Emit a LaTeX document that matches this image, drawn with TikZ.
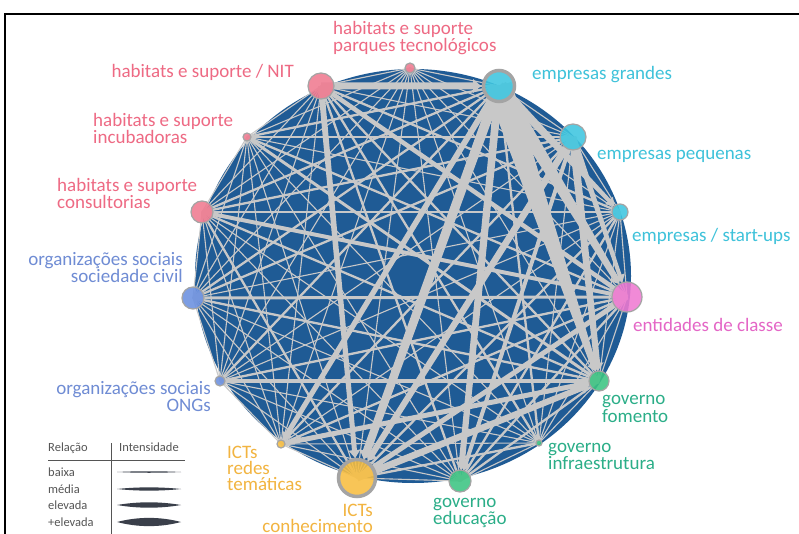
\documentclass[tikz,border=0pt]{standalone}
\usepackage{fontspec}
\setmainfont{Carlito}
\usetikzlibrary{calc}
\pgfdeclarelayer{discl}
\pgfdeclarelayer{edgel}
\pgfsetlayers{discl,edgel,main}

\definecolor{disc}{HTML}{1F5B95}
\definecolor{edgecol}{HTML}{C8C8C8}
\definecolor{ringgray}{HTML}{A4A4A4}
\definecolor{nHab}{HTML}{F07A90}
\definecolor{tHab}{HTML}{EE6A84}
\definecolor{nEmp}{HTML}{3EC6E0}
\definecolor{tEmp}{HTML}{3EC2DA}
\definecolor{nOrg}{HTML}{6A90E0}
\definecolor{tOrg}{HTML}{6F8CD4}
\definecolor{nEnt}{HTML}{F07AD2}
\definecolor{tEnt}{HTML}{E466C6}
\definecolor{nGov}{HTML}{3CC482}
\definecolor{tGov}{HTML}{2BAE88}
\definecolor{nIct}{HTML}{F8BE40}
\definecolor{tIct}{HTML}{F2B440}
\definecolor{legtext}{HTML}{555555}
\definecolor{lens}{HTML}{3A3F4A}

\tikzset{
  actor/.style={circle, inner sep=0pt, draw=ringgray, line width=1.2pt, fill opacity=0.88, draw opacity=1},
  bigactor/.style={actor, line width=3.5pt},
  thinedge/.style={draw=edgecol, line width=1.1pt},
  lbl/.style={inner sep=0pt, font=\fontsize{19}{16}\selectfont},
  lblL/.style={lbl, anchor=base west, align=left},
  lblR/.style={lbl, anchor=base east, align=right},
  legtxt/.style={inner sep=0pt, anchor=base west, text=legtext, font=\fontsize{12.5}{14}\selectfont},
}

% band of varying width ending in an arrow tip at the target's rim
\newcommand\bandto[5]{%
  \coordinate (bE) at ($(#2.center)!#5pt+8pt!(#1.center)$);
  \coordinate (bT) at ($(#2.center)!#5pt!(#1.center)$);
  \fill[edgecol] ($(#1.center)!#3pt!90:(bE)$) -- ($(bE)!#4pt!-90:(#1.center)$)
    -- ($(bE)!#4pt+3.5pt!-90:(#1.center)$) -- (bT)
    -- ($(bE)!#4pt+3.5pt!90:(#1.center)$) -- ($(bE)!#4pt!90:(#1.center)$)
    -- ($(#1.center)!#3pt!-90:(bE)$) -- cycle;
}
% plain band between two actors
\newcommand\band[3]{%
  \draw[draw=edgecol, line width=#3pt] (#1.center) -- (#2.center);
}

\begin{document}
\begin{tikzpicture}[x=1pt,y=-1pt]
\useasboundingbox (0,0) rectangle (799,534);

\begin{pgfonlayer}{discl}
  \fill[white] (0,0) rectangle (799,534);
  \draw[line width=2pt] (5,534) -- (5,14) -- (799,14);
  \fill[disc] (413,276) ellipse [x radius=218pt, y radius=207pt];
\end{pgfonlayer}

% actors
\node[actor, fill=nHab, minimum size=10pt] (park) at (410,68) {};
\node[actor, fill=nHab, minimum size=26pt] (nit) at (321,86) {};
\node[bigactor, fill=nEmp, minimum size=31pt] (gra) at (499,86) {};
\node[actor, fill=nHab, minimum size=8pt] (inc) at (247,137) {};
\node[actor, fill=nEmp, minimum size=26pt] (peq) at (573,137) {};
\node[actor, fill=nHab, minimum size=22pt] (con) at (202,212) {};
\node[actor, fill=nEmp, minimum size=16pt] (sta) at (620,212) {};
\node[actor, fill=nOrg, minimum size=22pt] (soc) at (193,298) {};
\node[actor, fill=nEnt, minimum size=30pt] (ent) at (627,297) {};
\node[actor, fill=nOrg, minimum size=10pt] (ong) at (220,381) {};
\node[actor, fill=nGov, minimum size=20pt] (fom) at (599,381) {};
\node[actor, fill=nIct, minimum size=8pt] (red) at (281,444) {};
\node[actor, fill=nGov, minimum size=6pt] (inf) at (539,443) {};
\node[bigactor, fill=nIct, minimum size=37pt] (ict) at (357,478) {};
\node[actor, fill=nGov, minimum size=22pt] (edu) at (460,481) {};

% connectors
\begin{pgfonlayer}{edgel}
  \def\actorlist{park,nit,gra,inc,peq,con,sta,soc,ent,ong,fom,red,inf,ict,edu}
  \foreach \a [count=\i] in \actorlist {
    \foreach \b [count=\j] in \actorlist {
      \ifnum\j>\i \draw[thinedge] (\a.center) -- (\b.center); \fi
    }
  }
  % strongest relations, tapering towards the receiving actor
  \bandto{gra}{fom}{13}{3}{10}
  \bandto{gra}{ent}{8}{3}{15}
  \bandto{gra}{sta}{5}{2}{8}
  \bandto{gra}{ict}{5}{4}{20}
  \bandto{gra}{edu}{4}{3}{11}
  \bandto{gra}{red}{3}{2.5}{4}
  \bandto{nit}{gra}{3.5}{3.5}{18}
  \bandto{peq}{fom}{4}{3}{10}
  \bandto{peq}{ict}{3.5}{3}{20}
  \bandto{peq}{ent}{3}{2}{15}
  \bandto{ict}{fom}{3.5}{3}{10}
  \bandto{nit}{ict}{3}{2.5}{20}
  \bandto{peq}{edu}{2}{2}{11}
  % high relations
  \band{red}{fom}{5}
  \band{ong}{fom}{4}
  \band{nit}{ent}{4.5}
  \band{ict}{ent}{5}
  \band{con}{ent}{4}
  \band{soc}{ent}{3}
  \band{inc}{fom}{3}
  % medium relations
  \foreach \p/\q in {nit/fom, nit/edu, nit/inf, nit/sta, con/fom, con/ict, con/gra,
      soc/fom, soc/gra, ict/sta, ict/inf, ent/edu, ent/red, edu/fom, edu/sta,
      ong/gra, inc/gra, inc/ent, soc/peq, ong/ent, red/peq, con/peq, inf/gra}
    {\band{\p}{\q}{2.3}}
\end{pgfonlayer}

% labels (base anchor = baseline of the last line)
\node[lblL, text=tHab] (lpark) at (333,51.5) {habitats e suporte\\parques tecnológicos};
\node[lblR, text=tHab] (lnit) at (294,77.5) {habitats e suporte / NIT};
\node[lblL, text=tHab] (linc) at (93,144) {habitats e suporte\\incubadoras};
\node[lblL, text=tHab] (lcon) at (57,208.5) {habitats e suporte\\consultorias};
\node[lblR, text=tOrg] (lsoc) at (183,282.5) {organizações sociais\\sociedade civil};
\node[lblR, text=tOrg, font=\fontsize{19}{17}\selectfont] (long) at (211,411) {organizações sociais\\ONGs};
\node[lblL, text=tEmp] (lgra) at (532,79.5) {empresas grandes};
\node[lblL, text=tEmp] (lpeq) at (597,159.5) {empresas pequenas};
\node[lblL, text=tEmp] (lsta) at (632,241.5) {empresas / start-ups};
\node[lblL, text=tEnt] (lent) at (633,331.5) {entidades de classe};
\node[lblL, text=tGov, font=\fontsize{19}{17.5}\selectfont] (lfom) at (602,422) {governo\\fomento};
\node[lblL, text=tGov] (linf) at (548,469.5) {governo\\infraestrutura};
\node[lblL, text=tGov] (ledu) at (433,524.5) {governo\\educação};
\node[lblR, text=tIct, font=\fontsize{19}{16}\selectfont] (lict) at (373,532.5) {ICTs\\conhecimento};
\node[lblL, text=tIct, font=\fontsize{19}{16}\selectfont] (lred) at (227,490) {ICTs\\redes\\temáticas};

% legend
\node[legtxt] (hrel) at (48,451) {Relação};
\node[legtxt] (hint) at (119,451) {Intensidade};
\draw[legtext, line width=0.8pt] (48,460) -- (185,460);
\draw[legtext, line width=0.8pt] (111,443) -- (111,534);
\node[legtxt] (r1) at (48,476) {baixa};
\node[legtxt] (r2) at (48,493) {média};
\node[legtxt] (r3) at (48,509) {elevada};
\node[legtxt] (r4) at (48,526) {+elevada};
\foreach \yy/\hh in {472/1, 489/2.2, 505/3.6, 522/5.5} {
  \fill[lens] (117,\yy) .. controls (138,\yy-\hh) and (160,\yy-\hh) .. (181,\yy)
    .. controls (160,\yy+\hh) and (138,\yy+\hh) .. (117,\yy) -- cycle;
}
\end{tikzpicture}
\end{document}
